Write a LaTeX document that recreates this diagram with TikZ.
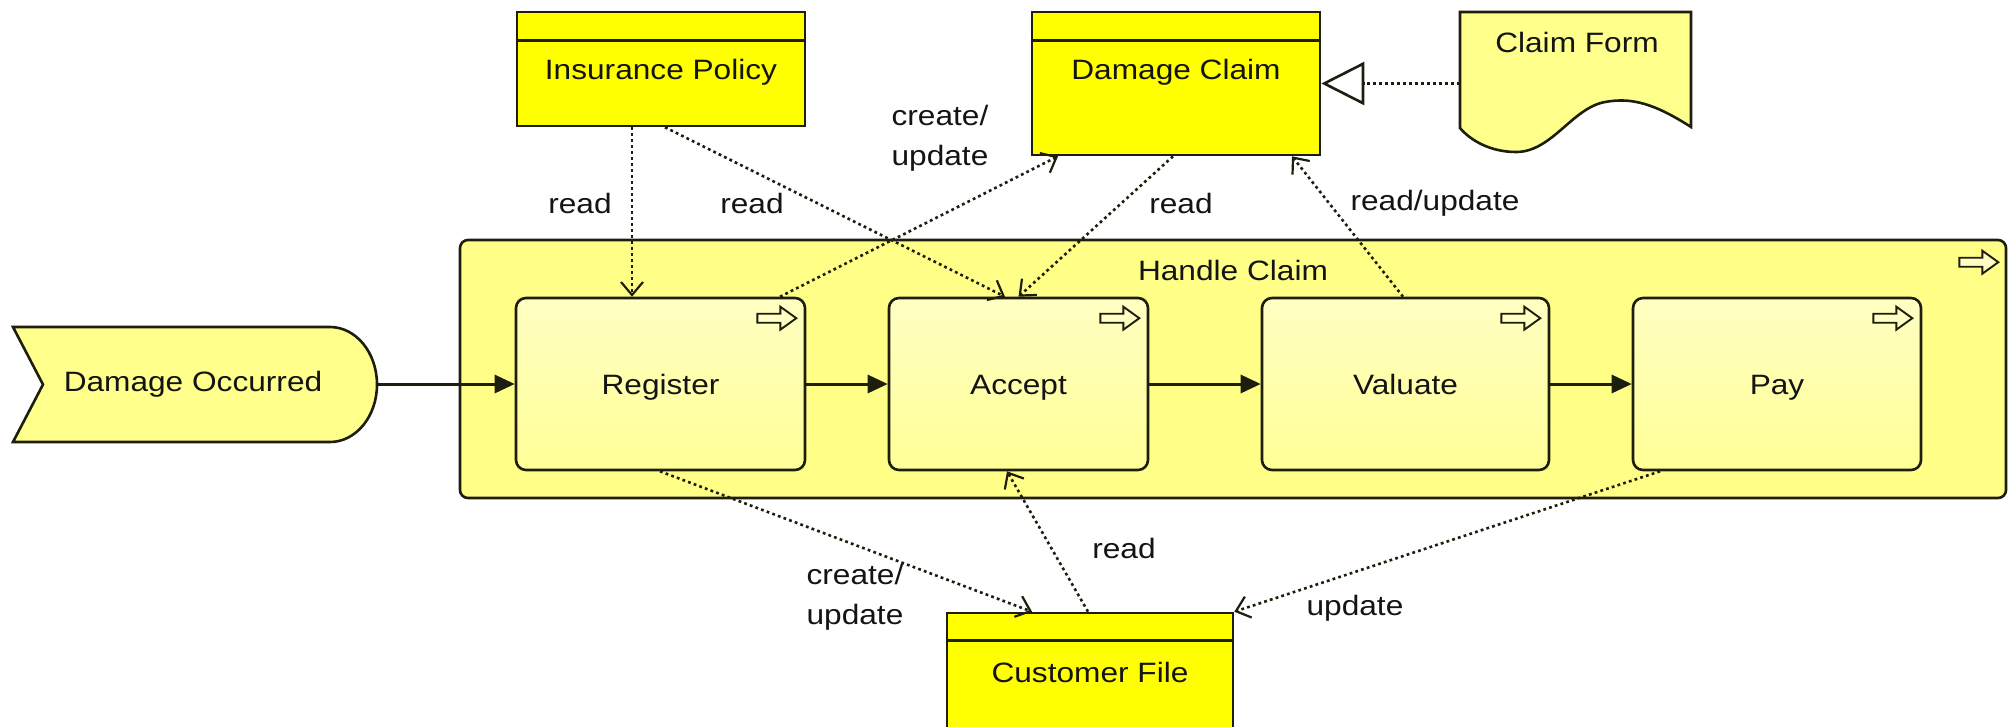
\documentclass[tikz,border=0pt]{standalone}
\usepackage{fontspec}
\setmainfont{Liberation Sans}[FakeStretch=1.13]
\usetikzlibrary{arrows.meta}
\definecolor{lc}{RGB}{30,30,15}
\definecolor{txtc}{RGB}{20,20,20}
\definecolor{datafill}{RGB}{255,255,0}
\definecolor{outerfill}{RGB}{255,255,136}
\definecolor{evfill}{RGB}{255,255,140}
\definecolor{acttop}{RGB}{255,255,195}
\definecolor{actbot}{RGB}{255,255,150}
\begin{document}
\begin{tikzpicture}[x=1pt,y=-1pt,
  txt/.style={font=\fontsize{28}{40}\selectfont, text=txtc, inner sep=0pt, align=left},
  dataobj/.style={draw=lc, line width=2.6pt, fill=datafill, minimum width=288pt, inner sep=0pt},
  actbox/.style={draw=lc, line width=2.6pt, rounded corners=10pt, top color=acttop, bottom color=actbot,
    minimum height=172pt, inner sep=0pt, text height=26pt, text depth=6pt,
    font=\fontsize{28}{40}\selectfont, text=txtc},
  outerbox/.style={draw=lc, line width=2.6pt, rounded corners=8pt, fill=outerfill, inner sep=0pt},
  shapeline/.style={draw=lc, line width=2.6pt, fill=evfill},
  flow/.style={draw=lc, line width=3pt, -{Triangle[length=20pt,width=18pt]}},
  access/.style={draw=lc, line width=2.6pt, dash pattern=on 2.8pt off 3.2pt,
    -{Straight Barb[length=13pt,width=22pt,line width=2.2pt]}},
  special/.style={draw=lc, line width=2.6pt, dash pattern=on 2.8pt off 3.2pt,
    -{Triangle[length=43pt,width=43pt,line width=2.6pt,fill=white]}},
  procarrow/.pic={\draw[line width=1.9pt, draw=lc, fill=acttop]
    (-39,7) -- (-16,7) -- (-16,0) -- (0,11.5) -- (-16,23) -- (-16,16) -- (-39,16) -- cycle;}
]
\useasboundingbox (0,0) rectangle (2009,726);
\clip (0,0) rectangle (2009,726);
\fill[white] (0,0) rectangle (2009,726);

% outer process
\node[outerbox, minimum width=1546pt, minimum height=258pt] (hc) at (1233,369) {};
\node[txt] (hct) at (1233,270) {Handle Claim};
\pic at ([xshift=-9pt,yshift=-12pt]hc.north east) {procarrow};

% event
\node[inner sep=0pt, minimum width=364pt, minimum height=115pt] (ev) at (195,384) {};
\draw[shapeline] (13,327) -- (330,327) .. controls (356,327) and (377,352.7) .. (377,384.5)
   .. controls (377,416.3) and (356,442) .. (330,442) -- (13,442) -- (43,384.5) -- cycle;
\node[txt] (evt) at (193,384.5) {Damage Occurred};

% activities
\node[actbox, minimum width=289pt] (reg) at (660.5,384) {Register};
\node[actbox, minimum width=259pt] (acc) at (1018.5,384) {Accept};
\node[actbox, minimum width=287pt] (val) at (1405.5,384) {Valuate};
\node[actbox, minimum width=288pt] (pay) at (1777,384) {Pay};
\foreach \n in {reg,acc,val,pay}{
  \pic at ([xshift=-10pt,yshift=-10pt]\n.north east) {procarrow};
}

% data objects
\node[dataobj, minimum height=114pt] (ip) at (661,69) {};
\draw[draw=lc, line width=2.6pt] ([yshift=-30pt]ip.north west) -- ([yshift=-30pt]ip.north east);
\node[txt] (ipt) at (661,72) {Insurance Policy};

\node[dataobj, minimum height=143pt] (dc) at (1176,83.5) {};
\draw[draw=lc, line width=2.6pt] ([yshift=-30pt]dc.north west) -- ([yshift=-30pt]dc.north east);
\node[txt] (dct) at (1176,72) {Damage Claim};

\node[dataobj, minimum width=286pt, minimum height=170pt] (cu) at (1090,698) {};
\draw[draw=lc, line width=2.6pt] ([yshift=-29pt]cu.north west) -- ([yshift=-29pt]cu.north east);
\node[txt] (cut) at (1090,672) {Customer File};

% claim form (representation)
\node[inner sep=0pt, minimum width=231pt, minimum height=143pt] (cf) at (1575.5,83.5) {};
\draw[shapeline] (1460,12) -- (1691,12) -- (1691,127)
   .. controls (1655,104) and (1632,97) .. (1605,102)
   .. controls (1572,108) and (1552,152) .. (1516,152)
   .. controls (1490,152) and (1470,140) .. (1460,128) -- cycle;
\node[txt] (cft) at (1577,42) {Claim Form};

% flows
\draw[flow] (ev.east) -- (reg.west);
\draw[flow] (reg.east) -- (acc.west);
\draw[flow] (acc.east) -- (val.west);
\draw[flow] (val.east) -- (pay.west);

% access relations
\draw[access] ([xshift=-29pt]ip.south) -- ([xshift=-28.5pt]reg.north);
\draw[access] ([xshift=4pt]ip.south) -- ([xshift=-13.5pt]acc.north);
\draw[access] ([xshift=119.5pt]reg.north) -- ([xshift=-118pt]dc.south);
\draw[access] ([xshift=-3pt]dc.south) -- (acc.north);
\draw[access] ([xshift=-2.5pt]val.north) -- ([xshift=116pt]dc.south);
\draw[access] ([xshift=-0.5pt]reg.south) -- ([xshift=-58pt]cu.north);
\draw[access] ([xshift=-2pt]cu.north) -- ([xshift=-11.5pt]acc.south);
\draw[access] ([xshift=-117pt]pay.south) -- (cu.north east);
\draw[special] (cf.west) -- (dc.east);

% labels
\node[txt] (l1) at (580,203) {read};
\node[txt] (l2) at (752,203) {read};
\node[txt] (l3) at (940,138) {create/\\update};
\node[txt] (l4) at (1181,203) {read};
\node[txt] (l5) at (1435,203) {read/update};
\node[txt] (l6) at (855,597) {create/\\update};
\node[txt] (l7) at (1124,548) {read};
\node[txt] (l8) at (1355,608) {update};
\end{tikzpicture}
\end{document}
